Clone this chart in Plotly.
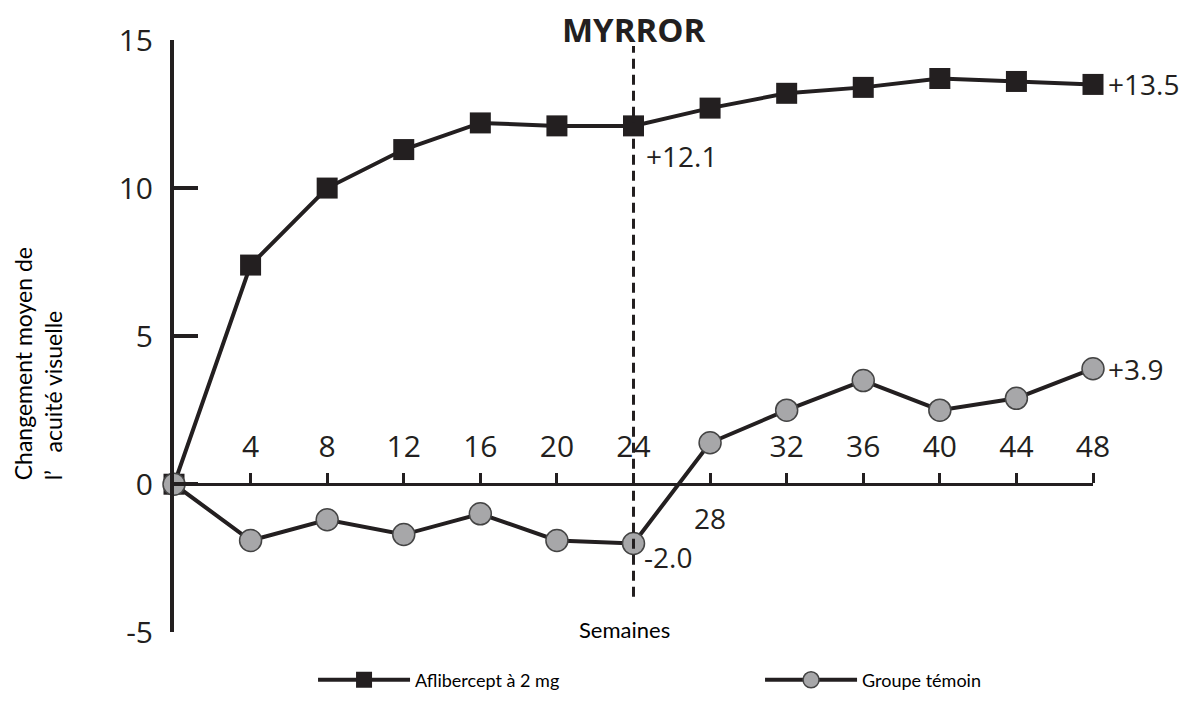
import plotly.graph_objects as go

weeks = [0, 4, 8, 12, 16, 20, 24, 28, 32, 36, 40, 44, 48]
aflibercept = [0, 7.4, 10.0, 11.3, 12.2, 12.1, 12.1, 12.7, 13.2, 13.4, 13.7, 13.6, 13.5]
controle = [0, -1.9, -1.2, -1.7, -1.0, -1.9, -2.0, 1.4, 2.5, 3.5, 2.5, 2.9, 3.9]
x_ticks = [4, 8, 12, 16, 20, 24, 28, 32, 36, 40, 44, 48]
x_ticktext = ["4", "8", "12", "16", "20", "24", "", "32", "36", "40", "44", "48"]
y_ticks = [-5, 0, 5, 10, 15]
y_ticktext = ["-5", "0", "5", "10", "15"]
name_afl = "Aflibercept à 2 mg"
name_ctl = "Groupe témoin"

INK = "#231f20"
NUM_FONT = "Open Sans"
TXT_FONT = "Lato"

W, H = 1188, 701
ML, MR, MT, MB = 166, 103, 32, 10
PW = W - ML - MR
PH = H - MT - MB
# y-axis domain so that the data region ends at y=-5 above the legend
D0 = 64 / PH
Y_RANGE = [-5, 15]
x_axis_pos = D0 + (0 - Y_RANGE[0]) / (Y_RANGE[1] - Y_RANGE[0]) * (1 - D0)

fig = go.Figure()
fig.add_trace(go.Scatter(
    x=weeks, y=aflibercept, name=name_afl, mode="lines+markers",
    line=dict(color=INK, width=4),
    marker=dict(symbol="square", size=21, color=INK, line=dict(width=0)),
    cliponaxis=False, legend="legend",
))
fig.add_trace(go.Scatter(
    x=weeks, y=controle, name=name_ctl, mode="lines+markers",
    line=dict(color=INK, width=4),
    marker=dict(symbol="circle", size=22, color="#a7a7a9", line=dict(color="#444444", width=1.5)),
    cliponaxis=False, legend="legend2",
))

# dashed vertical line at week 24
fig.add_shape(type="line", xref="x", yref="y", x0=24, x1=24, y0=-3.8, y1=14.8,
              line=dict(color=INK, width=3, dash="10px,6px"), layer="above")

annots = [
    dict(x=48, y=aflibercept[-1], text="+13.5", xshift=13, xanchor="left", yanchor="middle"),
    dict(x=24, y=aflibercept[6], text="+12.1", xshift=10, yshift=-30, xanchor="left", yanchor="middle"),
    dict(x=48, y=controle[-1], text="+3.9", xshift=13, xanchor="left", yanchor="middle"),
    dict(x=24, y=controle[6], text="-2.0", xshift=8, yshift=-14, xanchor="left", yanchor="middle"),
    dict(x=28, y=0, text="28", yshift=-34, xanchor="center", yanchor="middle"),
]
for a in annots:
    fig.add_annotation(xref="x", yref="y", showarrow=False,
                       font=dict(family=NUM_FONT, size=28, color=INK), **a)

fig.add_annotation(xref="x", yref="paper", x=24, y=1.0, yshift=11,
                   text="<b>MYRROR</b>", showarrow=False, xanchor="center", yanchor="middle",
                   font=dict(family=NUM_FONT, size=33, color=INK))
fig.add_annotation(xref="x", yref="y", x=24, y=-5, yshift=3, xshift=-9,
                   text="Semaines", showarrow=False, xanchor="center", yanchor="middle",
                   font=dict(family=TXT_FONT, size=22, color="black"))
fig.add_annotation(xref="paper", yref="paper", x=-0.147, y=0.507,
                   text="Changement moyen de<br>l’   acuité visuelle", showarrow=False,
                   textangle=-90, xanchor="center", yanchor="middle", align="left",
                   font=dict(family=TXT_FONT, size=23, color="black"))

legend_common = dict(orientation="h", y=0.0243, xanchor="left", yanchor="middle",
                     itemwidth=92, font=dict(family=TXT_FONT, size=18, color="black"),
                     bgcolor="rgba(0,0,0,0)")

fig.update_layout(
    width=W, height=H,
    margin=dict(l=ML, r=MR, t=MT, b=MB),
    paper_bgcolor="white", plot_bgcolor="white",
    showlegend=True,
    legend=dict(x=0.1513, **legend_common),
    legend2=dict(x=0.6377, **legend_common),
    xaxis=dict(range=[0, 48], tickvals=x_ticks, ticktext=x_ticktext,
               anchor="free", position=x_axis_pos, side="top",
               showline=True, linecolor=INK, linewidth=3,
               ticks="outside", ticklen=10, tickwidth=3, tickcolor=INK,
               showgrid=False, zeroline=False, ticklabelstandoff=4, automargin=False,
               tickfont=dict(family=NUM_FONT, size=30, color=INK)),
    yaxis=dict(range=Y_RANGE, domain=[D0, 1], tickvals=y_ticks, ticktext=y_ticktext,
               showline=True, linecolor=INK, linewidth=4,
               ticks="inside", ticklen=24, tickwidth=4, tickcolor=INK,
               showgrid=False, zeroline=False, ticklabelstandoff=11, automargin=False,
               tickfont=dict(family=NUM_FONT, size=30, color=INK)),
)

fig.write_html("out.html")
